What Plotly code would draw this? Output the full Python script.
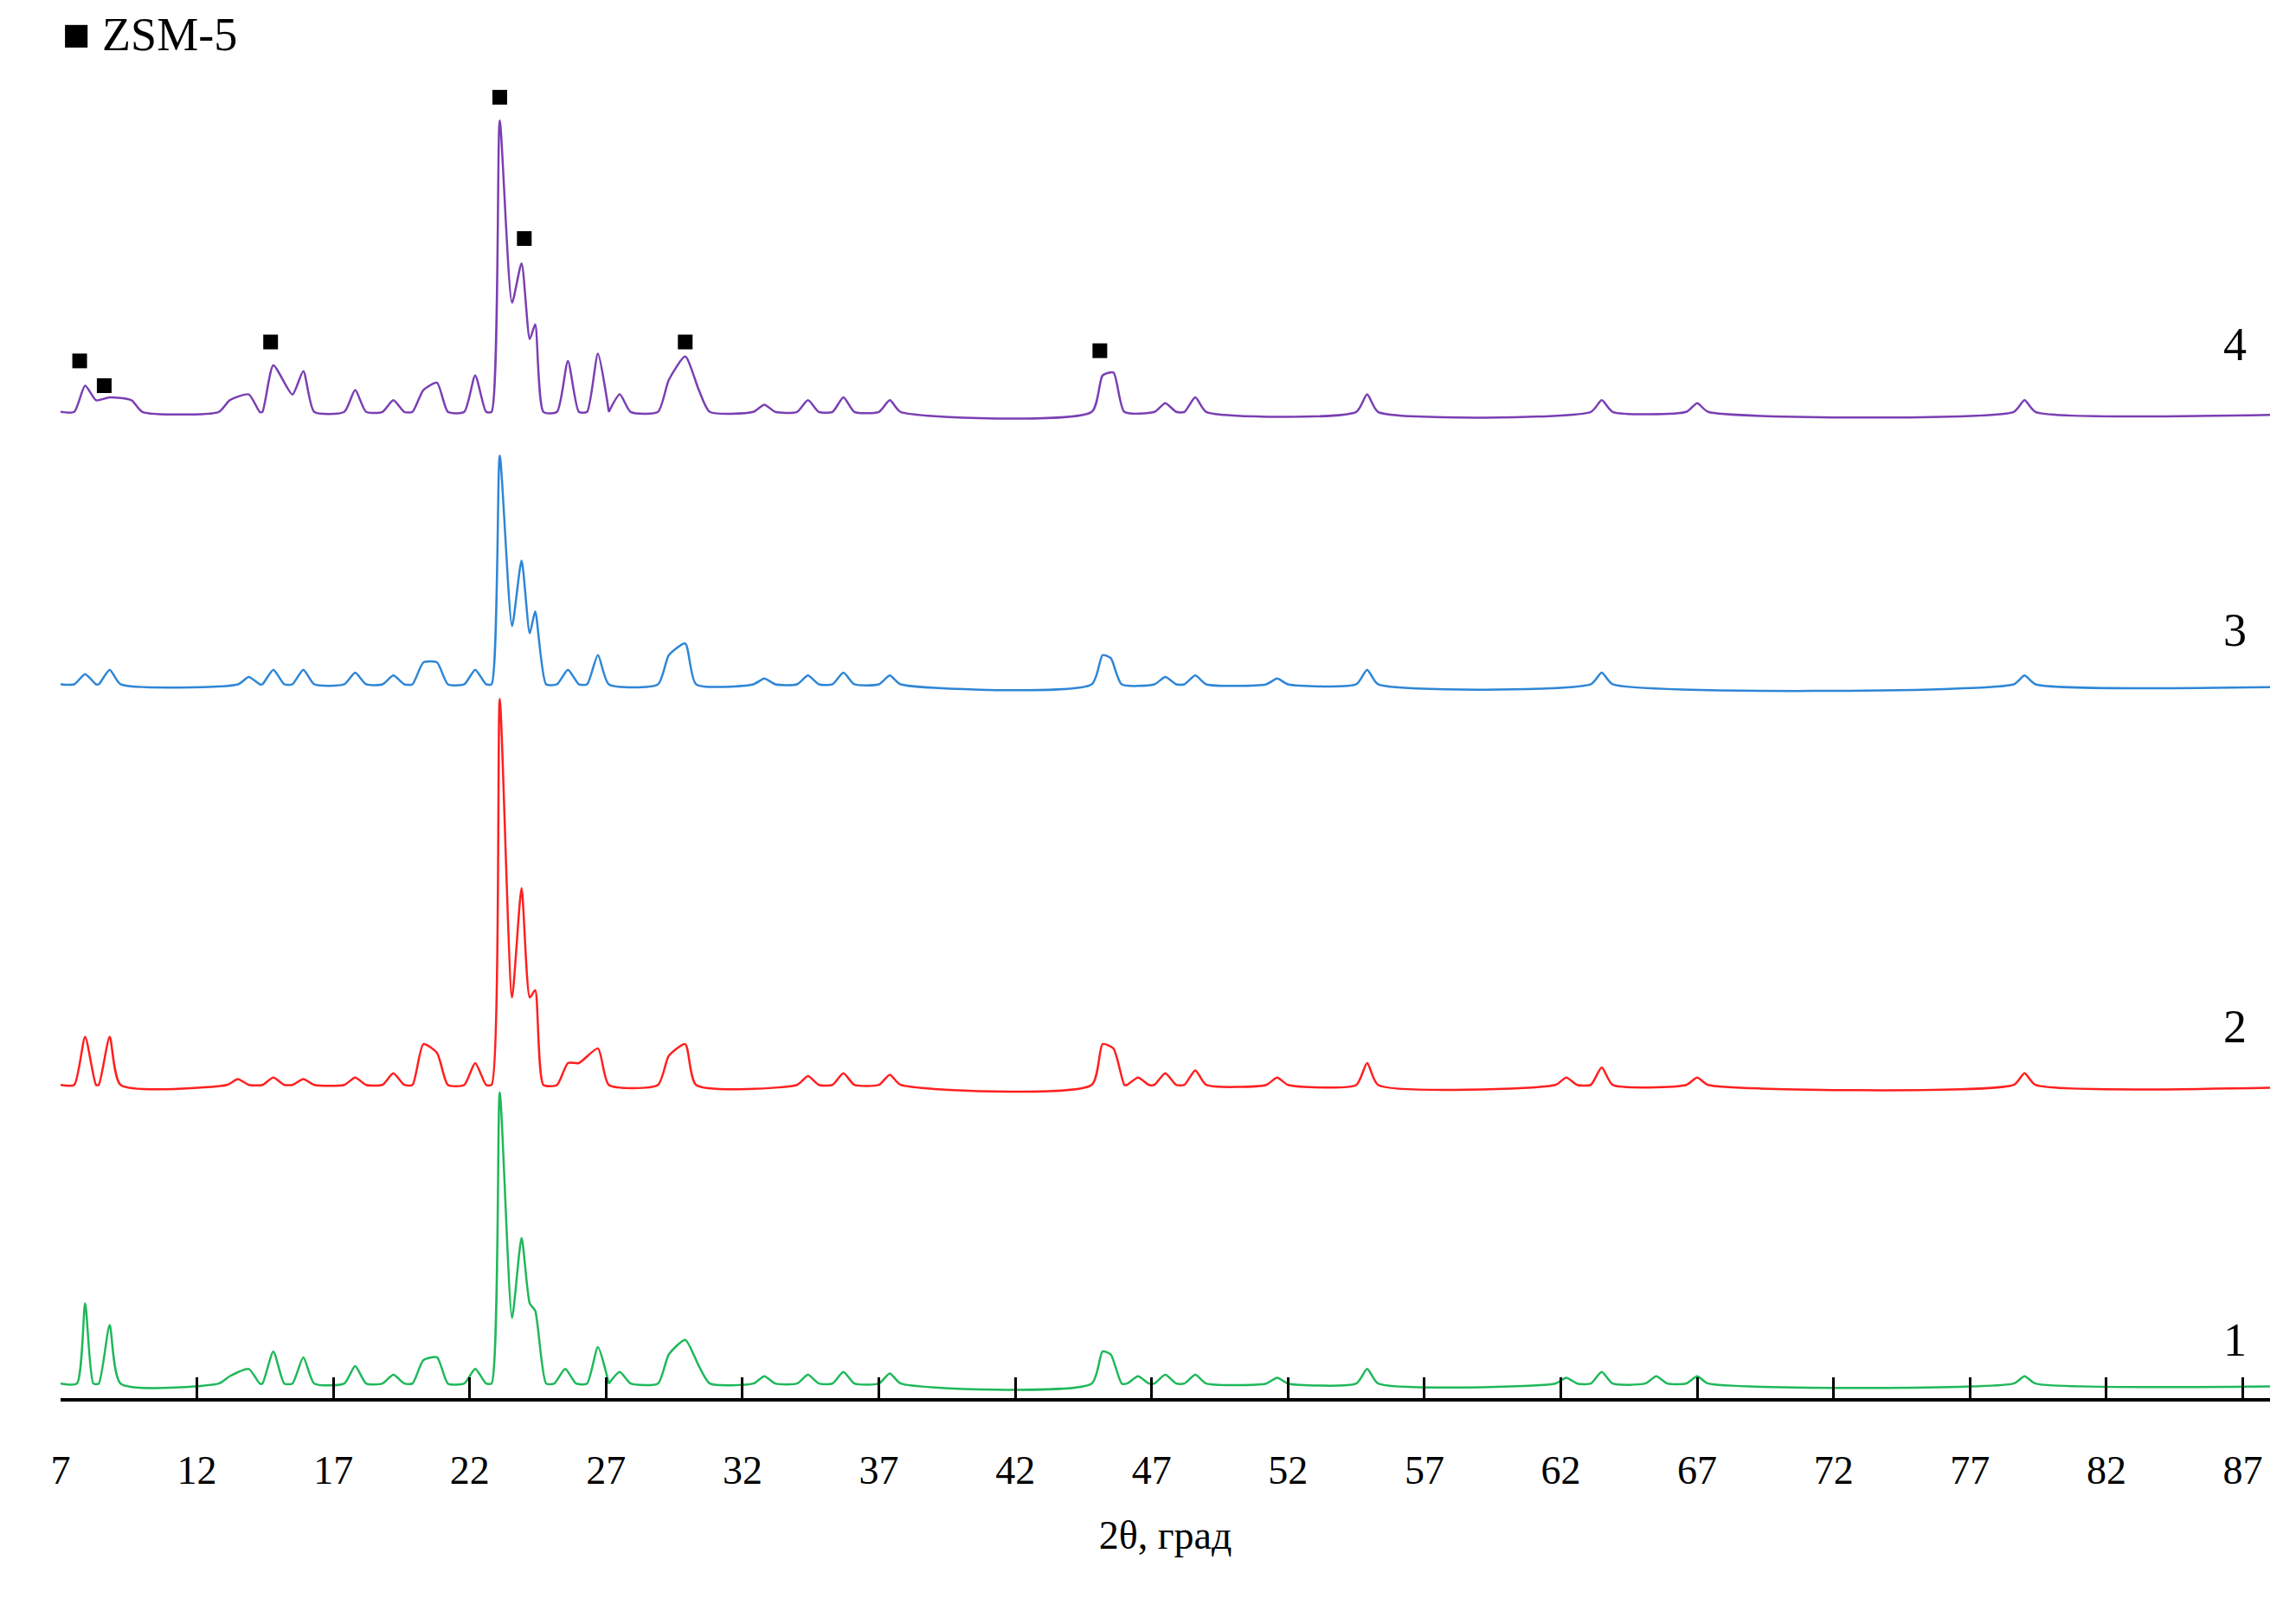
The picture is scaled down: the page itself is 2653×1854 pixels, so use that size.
import plotly.graph_objects as go

# Положения и высоты пиков (отн. ед.)
x_min, x_max = 7.0, 88.0

peaks_1 = [7.9, 8.8, 13.2, 13.9, 14.8, 15.9, 17.8, 19.2, 20.3, 20.8, 22.2, 23.1, 23.55, 23.9, 24.2, 24.4,
           25.5, 26.7, 27.5, 29.3, 29.9, 30.4, 32.8, 34.4, 35.7, 37.4, 45.2, 45.5, 46.5, 47.5, 48.6,
           51.6, 54.9, 62.2, 63.5, 65.5, 67.0, 79.0]
heights_1 = [55, 40, 5, 10, 22, 18, 12, 6, 16, 18, 10, 200, 45, 100, 55, 50,
             10, 25, 8, 20, 30, 12, 5, 6, 8, 7, 22, 20, 5, 6, 6,
             4, 10, 4, 8, 5, 5, 5]

peaks_2 = [7.9, 8.8, 13.5, 14.8, 15.9, 17.8, 19.2, 20.3, 20.8, 22.2, 23.1, 23.55, 23.9, 24.2, 24.4,
           25.6, 26.0, 26.7, 29.3, 29.9, 34.4, 35.7, 37.4, 45.2, 45.6, 46.5, 47.5, 48.6, 51.6, 54.9,
           62.2, 63.5, 67.0, 79.0]
heights_2 = [33, 33, 4, 5, 4, 5, 8, 28, 22, 15, 265, 60, 135, 60, 65,
             15, 15, 25, 20, 28, 6, 8, 7, 28, 25, 5, 8, 10, 5, 15,
             5, 12, 5, 8]

peaks_3 = [7.9, 8.8, 13.9, 14.8, 15.9, 17.8, 19.2, 20.3, 20.8, 22.2, 23.1, 23.55, 23.9, 24.2, 24.4,
           25.6, 26.7, 29.3, 29.9, 32.8, 34.4, 35.7, 37.4, 45.2, 45.5, 47.5, 48.6, 51.6, 54.9, 63.5, 79.0]
heights_3 = [7, 10, 5, 10, 10, 8, 6, 15, 15, 10, 157, 40, 85, 35, 50,
             10, 20, 20, 28, 4, 6, 8, 6, 20, 18, 5, 6, 4, 10, 8, 6]

peaks_4 = [7.9, 8.3, 8.8, 9.6, 13.2, 13.9, 14.8, 15.5, 15.9, 17.8, 19.2, 20.3, 20.8, 22.2, 23.1, 23.55,
           23.9, 24.2, 24.4, 25.6, 26.7, 27.5, 29.3, 29.9, 30.4, 32.8, 34.4, 35.7, 37.4, 45.2, 45.6,
           47.5, 48.6, 54.9, 63.5, 67.0, 79.0]
heights_4 = [18, 8, 10, 8, 8, 12, 32, 12, 28, 15, 8, 15, 20, 25, 200, 75,
             102, 50, 60, 35, 40, 12, 22, 38, 15, 5, 8, 10, 8, 25, 27,
             6, 10, 12, 8, 6, 8]

offsets = [10, 215, 490, 677]
colors = ["#1fb85a", "#ff1f1f", "#2e86d6", "#7a3fb3"]
labels = ["1", "2", "3", "4"]
label_y = [40, 255, 527, 723]

# Маркеры ZSM-5 (над кривой 4)
zsm_x = [7.7, 8.6, 14.7, 23.1, 24.0, 29.9, 45.1]
zsm_y = [712, 695, 725, 893, 796, 725, 719]

series = [(peaks_1, heights_1), (peaks_2, heights_2), (peaks_3, heights_3), (peaks_4, heights_4)]

fig = go.Figure()
for (px, ph), off, col in zip(series, offsets, colors):
    xs, ys = [x_min], [off]
    for i, (p, h) in enumerate(zip(px, ph)):
        hw = 0.3 if h > 50 else 0.4
        if i == 0 or p - px[i - 1] > 0.8:
            xs.append(p - hw); ys.append(off)
        xs.append(p); ys.append(off + h)
        if i == len(px) - 1 or px[i + 1] - p > 0.8:
            xs.append(p + hw); ys.append(off)
    xs.append(x_max); ys.append(off - 2)
    fig.add_trace(go.Scatter(x=xs, y=ys, mode="lines", line=dict(color=col, width=2.5, shape="spline", smoothing=0.6),
                             showlegend=False, hoverinfo="skip"))

fig.add_trace(go.Scatter(x=zsm_x, y=zsm_y, mode="markers",
                         marker=dict(symbol="square", size=17, color="black"), showlegend=False))

for lab, ly in zip(labels, label_y):
    fig.add_annotation(x=86.7, y=ly, text=lab, showarrow=False,
                       font=dict(size=54, color="black", family="Liberation Serif"))

fig.add_annotation(x=0.0, y=1.0, xref="paper", yref="paper", xanchor="left", yanchor="top",
                   text="■ ZSM-5", showarrow=False,
                   font=dict(size=54, color="black", family="Liberation Serif"))

fig.update_layout(
    width=2653, height=1854,
    margin=dict(l=62, r=38, t=0, b=247),
    plot_bgcolor="white", paper_bgcolor="white",
    font=dict(family="Liberation Serif", size=46, color="black"),
    xaxis=dict(range=[x_min, x_max], tickvals=list(range(7, 88, 5)),
               ticks="inside", ticklen=24, tickwidth=3, tickcolor="black",
               showline=True, linewidth=4, linecolor="black", showgrid=False, zeroline=False,
               ticklabelstandoff=40,
               title=dict(text="2θ, град", font=dict(size=46), standoff=35)),
    yaxis=dict(range=[0, 955], visible=False),
)

fig.write_html("out.html")
